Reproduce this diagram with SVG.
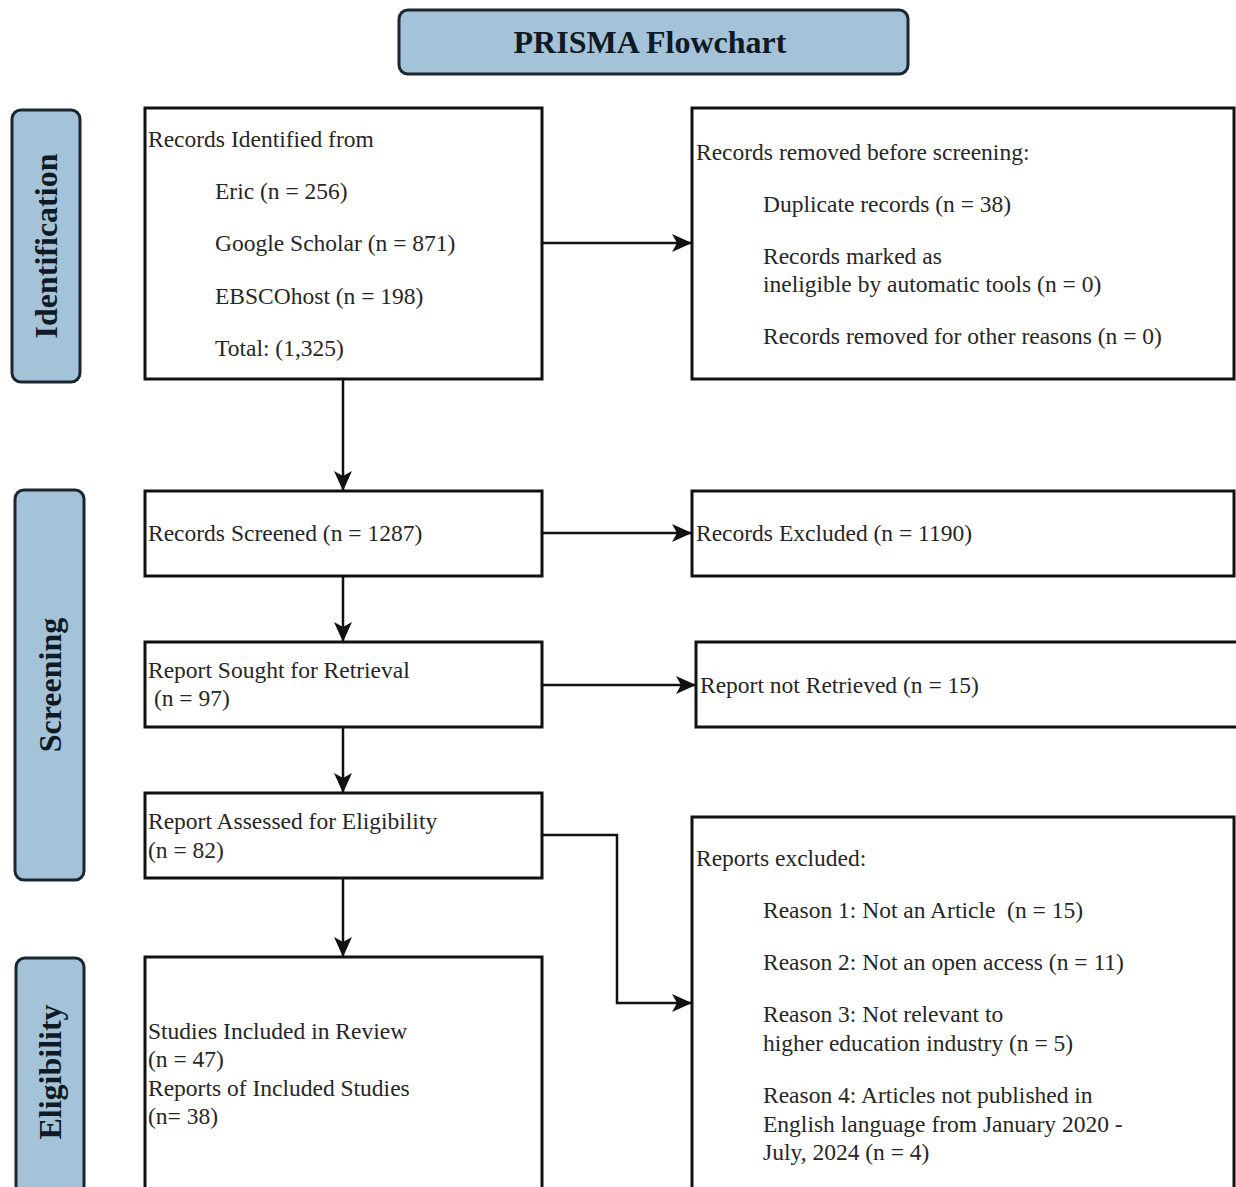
<svg xmlns="http://www.w3.org/2000/svg" width="1236" height="1187" viewBox="0 0 1236 1187">
<defs>
<style>
.box{fill:#fff;stroke:#111;stroke-width:3}
.lab{fill:#a5c3d8;stroke:#1b2630;stroke-width:3}
.t{font-family:"Liberation Serif","Times New Roman",serif;font-size:23.5px;fill:#262626;white-space:pre}
.b{font-family:"Liberation Serif","Times New Roman",serif;font-weight:bold;font-size:32px;fill:#0f1a24;text-anchor:middle}
.c{fill:none;stroke:#111;stroke-width:2.5}
</style>
<marker id="ah" markerUnits="userSpaceOnUse" markerWidth="22" markerHeight="20" refX="20" refY="9" orient="auto">
<path d="M0,0 L20,9 L0,18 L5,9 Z" fill="#111"/>
</marker>
</defs>
<rect width="1236" height="1187" fill="#fff"/>

<g id="title">
<rect class="lab" x="399" y="10" width="509" height="64" rx="9"/>
<text class="b" x="650" y="53">PRISMA Flowchart</text>
</g>

<g id="stage-identification">
<rect class="lab" x="12" y="110" width="68" height="272" rx="9"/>
<text class="b" transform="translate(57,246) rotate(-90)">Identification</text>
</g>
<g id="stage-screening">
<rect class="lab" x="15" y="490" width="69" height="390" rx="9"/>
<text class="b" transform="translate(61,685) rotate(-90)">Screening</text>
</g>
<g id="stage-eligibility">
<rect class="lab" x="16" y="958" width="68" height="250" rx="9"/>
<text class="b" transform="translate(61,1072) rotate(-90)">Eligibility</text>
</g>

<g id="connectors">
<line class="c" x1="542" y1="243" x2="692" y2="243" marker-end="url(#ah)"/>
<line class="c" x1="343" y1="379" x2="343" y2="491" marker-end="url(#ah)"/>
<line class="c" x1="542" y1="533" x2="692" y2="533" marker-end="url(#ah)"/>
<line class="c" x1="343" y1="576" x2="343" y2="642" marker-end="url(#ah)"/>
<line class="c" x1="542" y1="685" x2="696" y2="685" marker-end="url(#ah)"/>
<line class="c" x1="343" y1="727" x2="343" y2="793" marker-end="url(#ah)"/>
<polyline class="c" points="542,835 617,835 617,1003 692,1003" marker-end="url(#ah)"/>
<line class="c" x1="343" y1="878" x2="343" y2="957" marker-end="url(#ah)"/>
</g>

<g id="records-identified">
<rect class="box" x="145" y="108" width="397" height="271"/>
<text class="t" x="148" y="147">Records Identified from</text>
<text class="t" x="215" y="199">Eric (n = 256)</text>
<text class="t" x="215" y="251">Google Scholar (n = 871)</text>
<text class="t" x="215" y="304">EBSCOhost (n = 198)</text>
<text class="t" x="215" y="356">Total: (1,325)</text>
</g>

<g id="records-removed">
<rect class="box" x="692" y="108" width="542" height="271"/>
<text class="t" x="696" y="160">Records removed before screening:</text>
<text class="t" x="763" y="212">Duplicate records (n = 38)</text>
<text class="t" x="763" y="264">Records marked as</text>
<text class="t" x="763" y="292">ineligible by automatic tools (n = 0)</text>
<text class="t" x="763" y="344">Records removed for other reasons (n = 0)</text>
</g>

<g id="records-screened">
<rect class="box" x="145" y="491" width="397" height="85"/>
<text class="t" x="148" y="541">Records Screened (n = 1287)</text>
</g>

<g id="records-excluded">
<rect class="box" x="692" y="491" width="542" height="85"/>
<text class="t" x="696" y="541">Records Excluded (n = 1190)</text>
</g>

<g id="report-sought">
<rect class="box" x="145" y="642" width="397" height="85"/>
<text class="t" x="148" y="678">Report Sought for Retrieval</text>
<text class="t" x="148" y="706" xml:space="preserve"> (n = 97)</text>
</g>

<g id="report-not-retrieved">
<rect class="box" x="696" y="642" width="542" height="85"/>
<text class="t" x="700" y="693">Report not Retrieved (n = 15)</text>
</g>

<g id="report-assessed">
<rect class="box" x="145" y="793" width="397" height="85"/>
<text class="t" x="148" y="829">Report Assessed for Eligibility</text>
<text class="t" x="148" y="858">(n = 82)</text>
</g>

<g id="reports-excluded">
<rect class="box" x="692" y="817" width="542" height="390"/>
<text class="t" x="696" y="866">Reports excluded:</text>
<text class="t" x="763" y="918" xml:space="preserve">Reason 1: Not an Article  (n = 15)</text>
<text class="t" x="763" y="970">Reason 2: Not an open access (n = 11)</text>
<text class="t" x="763" y="1022">Reason 3: Not relevant to</text>
<text class="t" x="763" y="1051">higher education industry (n = 5)</text>
<text class="t" x="763" y="1103">Reason 4: Articles not published in</text>
<text class="t" x="763" y="1132">English language from January 2020 -</text>
<text class="t" x="763" y="1160">July, 2024 (n = 4)</text>
</g>

<g id="studies-included">
<rect class="box" x="145" y="957" width="397" height="250"/>
<text class="t" x="148" y="1039">Studies Included in Review</text>
<text class="t" x="148" y="1067">(n = 47)</text>
<text class="t" x="148" y="1096">Reports of Included Studies</text>
<text class="t" x="148" y="1124">(n= 38)</text>
</g>
</svg>
